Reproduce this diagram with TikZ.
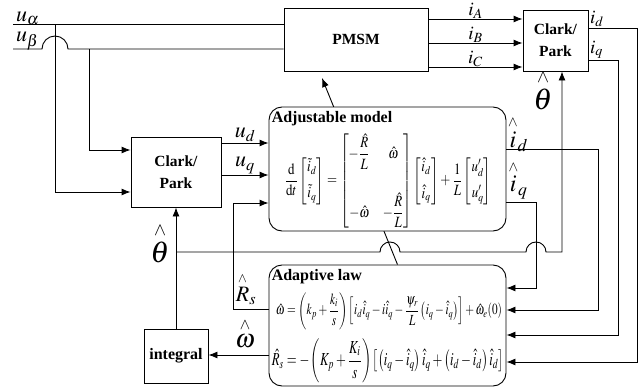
\documentclass[tikz,border=0pt]{standalone}
\usepackage{amsmath}
\usepackage{mathptmx}
\usepackage[no-math]{fontspec}
\setmainfont{Liberation Serif}
\usetikzlibrary{arrows.meta,backgrounds,calc}
\tikzset{
  >={Latex[length=9pt,width=7pt]},
}
\tikzstyle{wire}=[line width=0.9pt]
\tikzstyle{block}=[draw,line width=0.9pt,fill=white,align=center,font=\fontsize{15.5}{22}\selectfont\bfseries]
\tikzstyle{rblock}=[block,rounded corners=13pt]
\tikzstyle{title}=[anchor=north west,inner sep=2pt,font=\fontsize{16}{18}\selectfont\bfseries]
\tikzstyle{sig}=[inner sep=1pt,font=\fontsize{22}{24}\selectfont]
\newcommand{\hh}[1]{\overset{\scriptscriptstyle\wedge}{#1}}

\begin{document}
\begin{tikzpicture}[x=1pt,y=-1pt]
    \useasboundingbox (0,0) rectangle (641,388);
    % blocks
    \node[block,minimum width=144pt,minimum height=63pt] (pmsm) at (356,39.5) {PMSM};
    \node[block,minimum width=65pt,minimum height=61pt] (cpr) at (555.5,40.5) {Clark/\\Park};
    \node[block,minimum width=90pt,minimum height=70pt] (cpl) at (176,172) {Clark/\\Park};
    \node[block,minimum width=64pt,minimum height=54pt,font=\fontsize{16}{18}\selectfont\bfseries] (integ) at (176,356) {integral};
    \node[rblock,minimum width=237pt,minimum height=124pt] (adj) at (387.5,169) {};
    \node[rblock,minimum width=237pt,minimum height=121pt] (adp) at (387.5,325.5) {};
    \node[title] (adjtitle) at ($(adj.north west)+(1,3)$) {Adjustable model};
    \node[title] (adptitle) at ($(adp.north west)+(1,3)$) {Adaptive law};
    \node[inner sep=0pt] (adjeq) at (388,181) {\resizebox*{207pt}{94pt}{$\dfrac{\mathrm{d}}{\mathrm{d}t}\begin{bmatrix}\tilde{i}_d\\[1ex]\tilde{i}_q\end{bmatrix}=\begin{bmatrix}-\dfrac{\hat{R}}{L} & \hat{\omega}\\[4ex]-\hat{\omega} & -\dfrac{\hat{R}}{L}\end{bmatrix}\begin{bmatrix}\hat{i}_d\\[1ex]\hat{i}_q\end{bmatrix}+\dfrac{1}{L}\begin{bmatrix}u'_d\\[1ex]u'_q\end{bmatrix}$}};
    \node[inner sep=0pt] (adpeq1) at (389,311) {\resizebox*{226pt}{37pt}{$\hat{\omega}=\left(k_p+\dfrac{k_i}{s}\right)\left[i_d\hat{i}_q-i\hat{i}_q-\dfrac{\psi_r}{L}\left(i_q-\hat{i}_q\right)\right]+\hat{\omega}_e(0)$}};
    \node[inner sep=0pt] (adpeq2) at (388,361) {\resizebox*{232pt}{44pt}{$\hat{R}_s=-\left(K_p+\dfrac{K_i}{s}\right)\left[\left(i_q-\hat{i}_q\right)\hat{i}_q+\left(i_d-\hat{i}_d\right)\hat{i}_d\right]$}};

    % voltages in
    \coordinate (ua) at (13,24);
    \coordinate (ub) at (13,49);
    \draw[wire] (ua) -- (ua -| pmsm.west);
    \draw[wire] (ub) -- (42,49) arc[start angle=180,end angle=0,radius=13pt] -- (ub -| pmsm.west);
    \node[sig,anchor=south west] (ualbl) at (15,26) {$u_\alpha$};
    \node[sig,anchor=south west] (ublbl) at (15,51) {$u_\beta$};
    \draw[wire,->] (55,24) |- ($(cpl.west)+(0,20)$);
    \draw[wire,->] (89,49) |- ($(cpl.west)+(0,-22)$);

    % currents from motor
    \foreach \y/\ph in {19/A,43/B,67/C}
      \draw[wire,->] (pmsm.east |- 0,\y) -- (cpr.west |- 0,\y)
      node[midway,above,inner sep=0pt,font=\fontsize{19}{21}\selectfont]{$i_\ph$};

    \coordinate (ud) at ($(cpl.east)+(0,-29)$);
    \coordinate (uq) at ($(cpl.east)+(0,3)$);
    \draw[wire,->] (ud) -- (ud -| adj.west) node[sig,midway,above]{$u_d$};
    \draw[wire,->] (uq) -- (uq -| adj.west) node[sig,midway,above]{$u_q$};

    % feedback to adaptive law
    \draw[wire,->] (cpr.east |- 0,28) -| (637,362) -- (adp.east |- 0,362);
    \draw[wire,->] (cpr.east |- 0,60) -| (618,335) -- (adp.east |- 0,335);
    \draw[wire,->] (adj.east |- 0,149) -| (598,310) -- (adp.east |- 0,310);
    \draw[wire,->] (adj.east |- 0,202) -| (536,288) -- (adp.east |- 0,288);
    \node[font=\fontsize{19}{21}\selectfont,anchor=south west,inner sep=0pt] (idlbl) at (590,27) {$i_d$};
    \node[font=\fontsize{19}{21}\selectfont,anchor=south west,inner sep=0pt] (iqlbl) at (590,59) {$i_q$};
    \node[font=\fontsize{24}{26}\selectfont] (idh) at (518,134) {$\hh{i}_d$};
    \node[font=\fontsize{24}{26}\selectfont] (iqh) at (518,180) {$\hh{i}_q$};

    % estimated R, speed, angle
    \draw[wire,->] (adp.west |- 0,309) -| (233,203) -- (adj.west |- 0,203);
    \node[sig] (rslbl) at (246,289) {$\hh{R}_s$};
    \draw[wire,->] (adp.west |- 0,355) -- (integ.east |- 0,355);
    \node[font=\fontsize{26}{28}\selectfont] (wlbl) at (245,333) {$\hh{\omega}$};
    \draw[wire,->] (integ.north) -- (cpl.south);
    \coordinate (th) at (562,252);
    \draw[wire,->] (integ.north |- th) -- (380,252) arc[start angle=180,end angle=0,radius=10pt]
      -- (526,252) arc[start angle=180,end angle=0,radius=10pt] -- (th) -- (th |- cpr.south);
    \node[font=\fontsize{30}{32}\selectfont] (thl) at (160,243) {$\hh{\theta}$};
    \node[font=\fontsize{30}{32}\selectfont] (thr) at (543,90) {$\hh{\theta}$};

    \begin{scope}[on background layer]
      \draw[wire,->] ($(adp.north)+(10,0)$) -- (322,78);
    \end{scope}
\end{tikzpicture}
\end{document}
